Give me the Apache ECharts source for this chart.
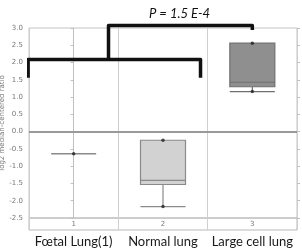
<!DOCTYPE html>
<html><head><meta charset="utf-8">
<script src="https://cdn.jsdelivr.net/npm/echarts@6/dist/echarts.min.js"></script>
<style>html,body{margin:0;padding:0;background:#fff}#c{width:302px;height:252px}</style>
</head><body><div id="c"></div>
<script>
const categories = ['Fœtal Lung(1)', 'Normal lung', 'Large cell lung'];
const indexLabels = ['1', '2', '3'];
// [min, Q1, median, Q3, max]
const foetalBox = [-0.64, -0.64, -0.64, -0.64, -0.64];
const normalBox = [-2.17, -1.53, -1.41, -0.25, -0.25];
const largeBox = [1.16, 1.30, 1.43, 2.56, 2.56];
const dotCat = [0, 1, 1, 2, 2];
const dotVal = [-0.64, -0.25, -2.17, 2.56, 1.16];
const bracketLowX = [-0.51, -0.51, 1.42, 1.42];
const bracketLowY = [1.56, 2.09, 2.09, 1.56];
const bracketTopX = [0.39, 0.39, 2.0, 2.0];
const bracketTopY = [2.09, 3.07, 3.07, 2.94];
const yTicks = [-2.5, 3.0, 0.5];
const titleText = 'P = 1.5 E-4';
const yName = 'log2 median-centered ratio';

const chart = echarts.init(document.getElementById('c'), null, {renderer: 'canvas'});
const zip = (a, b) => a.map((v, i) => [v, b[i]]);
chart.setOption({
  animation: false,
  title: {text: titleText, left: 144, top: 2,
    textStyle: {fontFamily: 'Lato', fontStyle: 'italic', fontWeight: 'normal', fontSize: 13, color: '#111'}},
  grid: [
    {left: 29, right: 5, top: 28, height: 190, show: true, borderColor: '#c4c4c4', borderWidth: 1,
      containLabel: false, outerBoundsMode: 'none'},
    {left: 29, right: 5, top: 218, height: 12, show: true, borderColor: '#b8b8b8', borderWidth: 1,
      containLabel: false, outerBoundsMode: 'none'}
  ],
  xAxis: [
    {type: 'category', gridIndex: 0, data: indexLabels,
      axisLine: {lineStyle: {color: '#c0c0c0'}}, axisTick: {show: false},
      axisLabel: {fontSize: 7, color: '#777', margin: 3, fontFamily: 'DejaVu Sans', interval: 0},
      splitLine: {show: true, interval: 0, lineStyle: {color: '#cfcfcf'}}},
    {type: 'category', gridIndex: 1, data: categories,
      axisLine: {show: false}, axisTick: {show: false},
      axisLabel: {fontSize: 13, color: '#1a1a1a', margin: 5, fontFamily: 'Lato', interval: 0, hideOverlap: false},
      splitLine: {show: true, interval: 0, lineStyle: {color: '#cfcfcf'}}},
    {type: 'value', gridIndex: 0, min: -0.5, max: 2.5, show: false, splitLine: {show: false}}
  ],
  yAxis: [
    {type: 'value', gridIndex: 0, min: yTicks[0], max: yTicks[1], interval: yTicks[2],
      name: yName, nameLocation: 'middle', nameGap: 23, nameRotate: 90, nameMoveOverlap: false,
      nameTextStyle: {fontSize: 7, color: '#777', fontFamily: 'DejaVu Sans'},
      axisLine: {show: true, lineStyle: {color: '#c0c0c0'}},
      axisTick: {show: true, length: 3, lineStyle: {color: '#c0c0c0'}},
      axisLabel: {fontSize: 7, color: '#777', margin: 6, fontFamily: 'DejaVu Sans',
        formatter: v => v.toFixed(1)},
      splitLine: {show: false}},
    {type: 'value', gridIndex: 0, position: 'right', min: yTicks[0], max: yTicks[1], interval: yTicks[2],
      axisLine: {show: false}, axisLabel: {show: false}, splitLine: {show: false},
      axisTick: {show: true, length: 3, lineStyle: {color: '#c0c0c0'}}},
    {type: 'value', gridIndex: 1, show: false, splitLine: {show: false}}
  ],
  series: [
    {type: 'boxplot', xAxisIndex: 0, yAxisIndex: 0, boxWidth: [45, 45],
      data: [
        {value: foetalBox, itemStyle: {color: '#888', borderColor: '#8a8a8a', borderWidth: 1.5}},
        {value: normalBox, itemStyle: {color: '#d2d2d2', borderColor: '#8a8a8a', borderWidth: 1.2}},
        {value: largeBox, itemStyle: {color: '#8f8f8f', borderColor: '#707070', borderWidth: 1.2}}
      ],
      markLine: {silent: true, symbol: 'none', label: {show: false},
        lineStyle: {color: '#999', width: 1.8, type: 'solid'}, data: [{yAxis: 0}]}
    },
    {type: 'scatter', xAxisIndex: 0, yAxisIndex: 0, symbolSize: 3.5, itemStyle: {color: '#222'},
      data: zip(dotCat, dotVal)},
    {type: 'line', xAxisIndex: 2, yAxisIndex: 0, clip: false, symbol: 'none',
      lineStyle: {color: '#111', width: 3.5, join: 'round'}, data: zip(bracketLowX, bracketLowY)},
    {type: 'line', xAxisIndex: 2, yAxisIndex: 0, clip: false, symbol: 'none',
      lineStyle: {color: '#111', width: 3.5, join: 'round'}, data: zip(bracketTopX, bracketTopY)}
  ]
});
</script></body></html>
